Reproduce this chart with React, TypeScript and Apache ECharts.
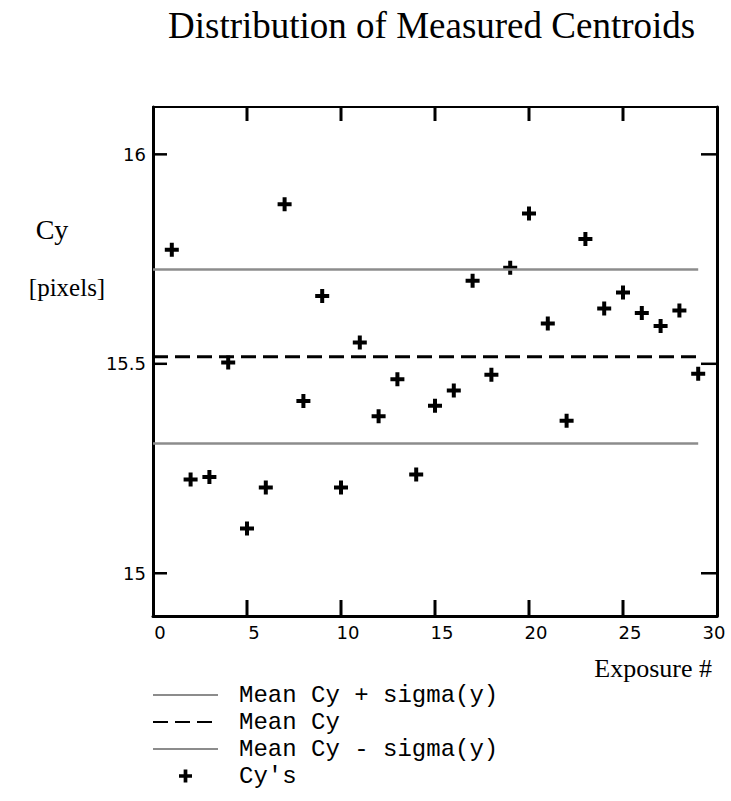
import React, { useEffect, useRef } from "react";
import * as echarts from "echarts";

const exposures = [1, 2, 3, 4, 5, 6, 7, 8, 9, 10, 11, 12, 13, 14, 15, 16, 17, 18, 19, 20, 21, 22, 23, 24, 25, 26, 27, 28, 29];
const cyValues = [15.772, 15.224, 15.23, 15.503, 15.107, 15.205, 15.881, 15.411, 15.662, 15.205, 15.551, 15.375, 15.463, 15.236, 15.4, 15.436, 15.698, 15.474, 15.729, 15.859, 15.596, 15.364, 15.798, 15.632, 15.67, 15.621, 15.59, 15.627, 15.476];
const lineSpan = [0, 29];
const meanCy = 15.517;
const meanPlusSigma = 15.725;
const meanMinusSigma = 15.31;
const yTicks = [15, 15.5, 16];
const xTicks = [0, 5, 10, 15, 20, 25, 30];
const seriesNames = ["Mean Cy + sigma(y)", "Mean Cy", "Mean Cy - sigma(y)", "Cy's"];

const PLUS = "path://M5,0H9V5H14V9H9V14H5V9H0V5H5Z";
const Y_MIN = 14.898;
const Y_MAX = 16.113;

export default function App() {
  const ref = useRef<HTMLDivElement>(null);
  useEffect(() => {
    if (!ref.current) return;
    const chart = echarts.init(ref.current, null, { renderer: "svg" });
    const hLine = (v: number) => lineSpan.map((x) => [x, v]);
    const innerX = xTicks.slice(1, -1);
    const frameLine = (w: number) => ({ show: true, onZero: false, lineStyle: { color: "#000", width: w } });
    const texts: any[] = [
      {
        type: "text",
        x: 52,
        y: 229,
        style: { text: "Cy", fontFamily: "Liberation Serif", fontSize: 28, fill: "#000", textAlign: "center", textVerticalAlign: "middle" },
      },
      {
        type: "text",
        x: 67,
        y: 287,
        style: { text: "[pixels]", fontFamily: "Liberation Serif", fontSize: 25, fill: "#000", textAlign: "center", textVerticalAlign: "middle" },
      },
      {
        type: "text",
        x: 712,
        y: 668,
        style: { text: "Exposure #", fontFamily: "Liberation Serif", fontSize: 26, fill: "#000", textAlign: "right", textVerticalAlign: "middle" },
      },
    ];
    chart.setOption({
      animation: false,
      backgroundColor: "#ffffff",
      title: {
        text: "Distribution of Measured Centroids",
        left: 168,
        top: 7,
        padding: 0,
        textStyle: { fontFamily: "Liberation Serif", fontSize: 37, fontWeight: "normal", color: "#000" },
      },
      grid: { left: 153, right: 14, top: 107, bottom: 185 },
      legend: {
        orient: "vertical",
        left: 152,
        top: 682,
        itemWidth: 65,
        itemHeight: 13,
        itemGap: 1,
        padding: 0,
        data: [
          { name: seriesNames[0], itemStyle: { opacity: 0 } },
          { name: seriesNames[1], itemStyle: { opacity: 0 } },
          { name: seriesNames[2], itemStyle: { opacity: 0 } },
          { name: seriesNames[3] },
        ],
        textStyle: { fontFamily: "Liberation Mono", fontSize: 24, color: "#000", lineHeight: 26, padding: [0, 0, 0, 16] },
      },
      xAxis: [
        {
          type: "value",
          position: "bottom",
          min: 0,
          max: 30,
          interval: 5,
          splitLine: { show: false },
          axisLine: frameLine(3),
          axisTick: { show: false },
          axisLabel: {
            show: true,
            margin: 7,
            fontFamily: "DejaVu Sans",
            fontSize: 18,
            color: "#000",
            formatter: (v: number) => (v === xTicks[xTicks.length - 1] ? "{e|" + v + "}" : "{n|" + v + "}"),
            rich: {
              n: { fontFamily: "DejaVu Sans", fontSize: 18, color: "#000", padding: [0, 0, 0, 14] },
              e: { fontFamily: "DejaVu Sans", fontSize: 18, color: "#000", padding: [0, 6, 0, 0] },
            },
          },
        },
        {
          type: "value",
          position: "top",
          min: 0,
          max: 30,
          interval: 5,
          splitLine: { show: false },
          axisLine: frameLine(2),
          axisTick: { show: false },
          axisLabel: { show: false },
        },
      ],
      yAxis: [
        {
          type: "value",
          position: "left",
          min: Y_MIN,
          max: Y_MAX,
          splitLine: { show: false },
          axisLine: frameLine(3),
          axisTick: { show: false },
          axisLabel: {
            show: true,
            margin: 7,
            customValues: yTicks,
            fontFamily: "DejaVu Sans",
            fontSize: 18,
            color: "#000",
            formatter: (v: number) => String(v),
          },
        },
        {
          type: "value",
          position: "right",
          min: Y_MIN,
          max: Y_MAX,
          splitLine: { show: false },
          axisLine: frameLine(3),
          axisTick: { show: false },
          axisLabel: { show: false },
        },
      ],
      series: [
        {
          name: seriesNames[0],
          type: "line",
          data: hLine(meanPlusSigma),
          symbol: "none",
          lineStyle: { color: "#8c8c8c", width: 2.5 },
          itemStyle: { color: "#8c8c8c" },
        },
        {
          name: seriesNames[1],
          type: "line",
          data: hLine(meanCy),
          symbol: "none",
          lineStyle: { color: "#000", width: 3, type: [15, 7] },
          itemStyle: { color: "#000" },
        },
        {
          name: seriesNames[2],
          type: "line",
          data: hLine(meanMinusSigma),
          symbol: "none",
          lineStyle: { color: "#8c8c8c", width: 2.5 },
          itemStyle: { color: "#8c8c8c" },
        },
        {
          name: seriesNames[3],
          type: "scatter",
          data: exposures.map((x, i) => [x, cyValues[i]]),
          symbol: PLUS,
          symbolSize: 14,
          itemStyle: { color: "#000", opacity: 1 },
        },
      ],
      graphic: { elements: texts },
    });

    const finder = { xAxisIndex: 0, yAxisIndex: 0 };
    const tl = chart.convertToPixel(finder, [0, Y_MAX]) as number[];
    const br = chart.convertToPixel(finder, [30, Y_MIN]) as number[];
    const ticks: any[] = [];
    if (tl && br && isFinite(tl[0]) && isFinite(br[1])) {
      innerX.forEach((x) => {
        const px = (chart.convertToPixel(finder, [x, Y_MIN]) as number[])[0];
        ticks.push({ type: "line", z: 100, silent: true, shape: { x1: px, y1: br[1] - 16, x2: px, y2: br[1] }, style: { stroke: "#000", lineWidth: 3 } });
        ticks.push({ type: "rect", z: 100, silent: true, shape: { x: px - 1.5, y: tl[1], width: 3, height: 14 }, style: { fill: "#000" } });
      });
      yTicks.forEach((y) => {
        const py = (chart.convertToPixel(finder, [0, y]) as number[])[1];
        ticks.push({ type: "rect", z: 100, silent: true, shape: { x: tl[0], y: py - 1.25, width: 14, height: 2.5 }, style: { fill: "#000" } });
        ticks.push({ type: "rect", z: 100, silent: true, shape: { x: br[0] - 16, y: py - 1.25, width: 16, height: 2.5 }, style: { fill: "#000" } });
      });
      chart.setOption({ graphic: { elements: texts.concat(ticks) } });
    }
    return () => chart.dispose();
  }, []);
  return <div ref={ref} style={{ position: "fixed", left: 0, top: 0, width: 731, height: 801 }} />;
}
